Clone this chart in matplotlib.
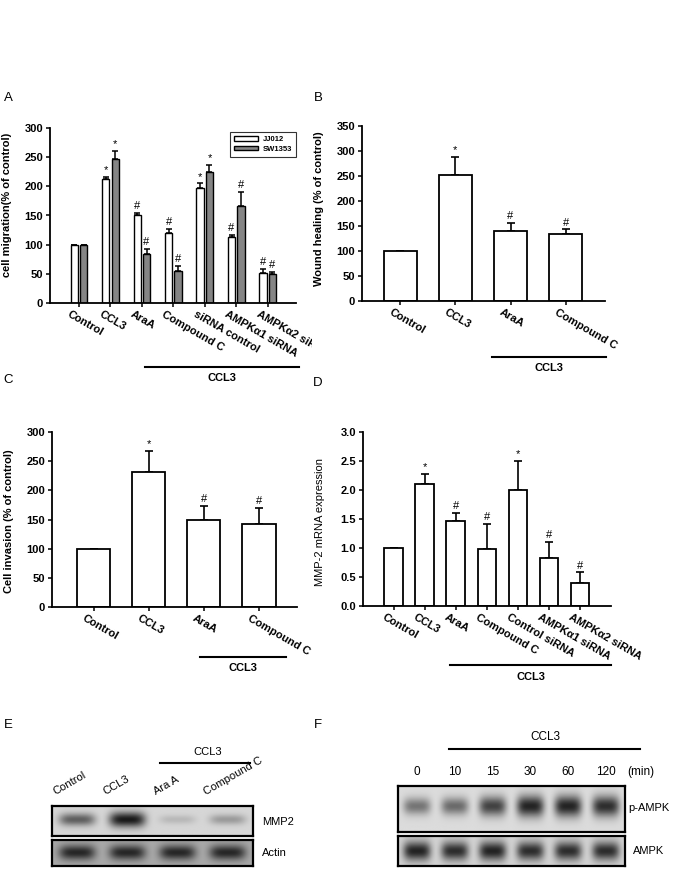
import numpy as np
import matplotlib
matplotlib.use('Agg')
import matplotlib.pyplot as plt
from matplotlib.transforms import blended_transform_factory, ScaledTranslation, Bbox, TransformedBbox
from matplotlib.patches import Patch
from matplotlib.lines import Line2D

plt.rcParams['font.family'] = ['Liberation Sans', 'DejaVu Sans']

# ---------------- data ----------------
a_labels = ['Control', 'CCL3', 'AraA', 'Compound C', 'siRNA control', 'AMPKα1 siRNA', 'AMPKα2 siRNA']
a_jj = [100, 212, 151, 120, 197, 113, 52]
a_jj_err = [0, 4, 4, 7, 8, 4, 6]
a_sw = [100, 247, 84, 55, 224, 167, 50]
a_sw_err = [0, 14, 9, 8, 13, 24, 3]
a_jj_mark = ['', '*', '#', '#', '*', '#', '#']
a_sw_mark = ['', '*', '#', '#', '*', '#', '#']
a_series = ['JJ012', 'SW1353']

b_labels = ['Control', 'CCL3', 'AraA', 'Compound C']
b_vals = [100, 253, 140, 134]
b_err = [0, 36, 17, 10]
b_mark = ['', '*', '#', '#']

c_labels = ['Control', 'CCL3', 'AraA', 'Compound C']
c_vals = [100, 231, 150, 143]
c_err = [0, 37, 24, 27]
c_mark = ['', '*', '#', '#']

d_labels = ['Control', 'CCL3', 'AraA', 'Compound C', 'Control siRNA', 'AMPKα1 siRNA', 'AMPKα2 siRNA']
d_vals = [1.0, 2.1, 1.46, 0.98, 2.0, 0.82, 0.39]
d_err = [0, 0.18, 0.15, 0.44, 0.5, 0.28, 0.19]
d_mark = ['', '*', '#', '#', '*', '#', '#']

e_lanes = ['Control', 'CCL3', 'Ara A', 'Compound C']
e_mmp2 = [0.60, 0.95, 0.15, 0.30]
e_actin = [0.85, 0.85, 0.85, 0.85]

f_lanes = ['0', '10', '15', '30', '60', '120']
f_pampk = [0.50, 0.55, 0.75, 0.90, 0.90, 0.85]
f_ampk = [0.90, 0.85, 0.90, 0.85, 0.85, 0.85]

# ---------------- figure ----------------
W, H = 685, 871
DPI = 100
fig = plt.figure(figsize=(W / DPI, H / DPI), dpi=DPI)


def rect(l, t, r, b):
    return [l / W, 1 - b / H, (r - l) / W, (b - t) / H]


def style(ax, ylim, yticks, fmt, ylabel, lab_y):
    for s in ['top', 'right']:
        ax.spines[s].set_visible(False)
    for s in ['left', 'bottom']:
        ax.spines[s].set_linewidth(1.3)
    ax.set_ylim(*ylim)
    ax.set_yticks(yticks)
    ax.set_yticklabels([fmt.format(v) for v in yticks], fontweight='bold')
    ax.tick_params(axis='y', direction='out', length=3, width=1.1, labelsize=8, pad=2)
    ax.tick_params(axis='x', direction='out', length=3, width=1.1, labelbottom=False)
    ax.set_ylabel(ylabel, fontsize=8, fontweight='bold')
    ax.yaxis.set_label_coords(-0.155, lab_y)


def xlabels(ax, labels, clip_px=None):
    trans = blended_transform_factory(ax.transData, ax.transAxes) + \
        ScaledTranslation(-8 / DPI, -6 / DPI, fig.dpi_scale_trans)
    for i, lab in enumerate(labels):
        t = ax.text(i, 0, lab, transform=trans, rotation=-30, rotation_mode='anchor',
                    ha='left', va='top', fontsize=8, fontweight='bold', clip_on=False)
        if clip_px is not None:
            bb = TransformedBbox(Bbox([[0, 0], [clip_px / W, 1]]), fig.transFigure)
            t.set_clip_box(bb)
            t.set_clip_on(True)


def ccl3_bracket(ax, x0, x1, yline, ytext):
    tr = blended_transform_factory(ax.transData, ax.transAxes)
    ax.add_line(Line2D([x0, x1], [yline, yline], transform=tr, color='black', lw=1.5, clip_on=False))
    ax.text((x0 + x1) / 2, ytext, 'CCL3', transform=tr, ha='center', va='center',
            fontsize=8, fontweight='bold', clip_on=False)


def marks(ax, xs, tops, ms, dy):
    for x, t, m in zip(xs, tops, ms):
        if m:
            ax.text(x, t + dy, m, ha='center', va='bottom', fontsize=8)


# ---------------- Panel A ----------------
axA = fig.add_axes(rect(50, 128, 296, 303))
xa = np.arange(len(a_labels))
bw = 0.23
off = 0.15
axA.bar(xa - off, a_jj, bw, color='white', edgecolor='black', lw=1.0, zorder=2)
axA.bar(xa + off, a_sw, bw, color='#858585', edgecolor='black', lw=1.0, zorder=2)
axA.errorbar(xa - off, a_jj, yerr=[np.zeros(len(a_jj)), a_jj_err], fmt='none', ecolor='black',
             elinewidth=1.1, capsize=2.2, capthick=1.1, zorder=1)
axA.errorbar(xa + off, a_sw, yerr=[np.zeros(len(a_sw)), a_sw_err], fmt='none', ecolor='black',
             elinewidth=1.1, capsize=2.2, capthick=1.1, zorder=1)
axA.set_xlim(-0.92, 6.9)
axA.set_xticks(xa)
style(axA, (0, 300), [0, 50, 100, 150, 200, 250, 300], '{:d}', 'cell migration(% of control)', 0.56)
marks(axA, xa - off, np.array(a_jj) + np.array(a_jj_err), a_jj_mark, 3)
marks(axA, xa + off, np.array(a_sw) + np.array(a_sw_err), a_sw_mark, 3)
xlabels(axA, a_labels, clip_px=312)
ccl3_bracket(axA, 2.1, 6.98, -0.366, -0.43)
leg = axA.legend(handles=[Patch(facecolor='white', edgecolor='black', label=a_series[0]),
                          Patch(facecolor='#858585', edgecolor='black', label=a_series[1])],
                 loc='upper right', bbox_to_anchor=(1.0, 0.975), frameon=True,
                 fancybox=False, edgecolor='black', handlelength=3.2, handleheight=0.6,
                 borderpad=0.5, labelspacing=0.3, handletextpad=0.6, borderaxespad=0.0,
                 prop={'weight': 'bold', 'size': 5.5})
leg.get_frame().set_linewidth(0.8)

# ---------------- Panel B ----------------
axB = fig.add_axes(rect(362, 126, 605, 301))
xb = np.arange(len(b_labels))
axB.bar(xb, b_vals, 0.6, color='white', edgecolor='black', lw=1.3, zorder=2)
axB.errorbar(xb, b_vals, yerr=[np.zeros(len(b_vals)), b_err], fmt='none', ecolor='black',
             elinewidth=1.2, capsize=3, capthick=1.2, zorder=1)
axB.set_xlim(-0.69, 3.71)
axB.set_xticks(xb)
style(axB, (0, 350), [0, 50, 100, 150, 200, 250, 300, 350], '{:d}', 'Wound healing (% of control)', 0.53)
marks(axB, xb, np.array(b_vals) + np.array(b_err), b_mark, 3)
xlabels(axB, b_labels)
ccl3_bracket(axB, 1.66, 3.72, -0.32, -0.383)

# ---------------- Panel C ----------------
axC = fig.add_axes(rect(52, 432, 297, 607))
xc = np.arange(len(c_labels))
axC.bar(xc, c_vals, 0.6, color='white', edgecolor='black', lw=1.3, zorder=2)
axC.errorbar(xc, c_vals, yerr=[np.zeros(len(c_vals)), c_err], fmt='none', ecolor='black',
             elinewidth=1.2, capsize=3, capthick=1.2, zorder=1)
axC.set_xlim(-0.76, 3.69)
axC.set_xticks(xc)
style(axC, (0, 300), [0, 50, 100, 150, 200, 250, 300], '{:d}', 'Cell invasion (% of control)', 0.49)
marks(axC, xc, np.array(c_vals) + np.array(c_err), c_mark, 3)
xlabels(axC, c_labels)
ccl3_bracket(axC, 1.93, 3.49, -0.286, -0.349)

# ---------------- Panel D ----------------
axD = fig.add_axes(rect(363, 432, 611, 606))
xd = np.arange(len(d_labels))
axD.bar(xd, d_vals, 0.6, color='white', edgecolor='black', lw=1.3, zorder=2)
axD.errorbar(xd, d_vals, yerr=[np.zeros(len(d_vals)), d_err], fmt='none', ecolor='black',
             elinewidth=1.2, capsize=3, capthick=1.2, zorder=1)
axD.set_xlim(-0.99, 7.0)
axD.set_xticks(xd)
style(axD, (0, 3.0), [0, 0.5, 1.0, 1.5, 2.0, 2.5, 3.0], '{:.1f}', 'MMP-2 mRNA expression', 0.48)
axD.yaxis.label.set_fontweight('normal')
marks(axD, xd, np.array(d_vals) + np.array(d_err), d_mark, 0.03)
xlabels(axD, d_labels)
ccl3_bracket(axD, 1.82, 7.0, -0.339, -0.408)

# ---------------- panel letters ----------------
for letter, (px, py) in {'A': (8, 98), 'B': (318, 98), 'C': (8, 380), 'D': (318, 383),
                         'E': (8, 725), 'F': (318, 725)}.items():
    fig.text(px / W, 1 - py / H, letter, fontsize=9.5, ha='center', va='center')


# ---------------- blots ----------------
def blot(rpx, intens, bg, yc, bh, dark=0.06, bwid=0.36):
    ax = fig.add_axes(rect(*rpx))
    n = len(intens)
    nx, ny = 500, 80
    x = np.linspace(-0.5, n - 0.5, nx)
    y = np.linspace(0, 1, ny)
    X, Y = np.meshgrid(x, y)
    prof = np.zeros_like(X)
    for i, v in enumerate(intens):
        h = bh * (0.6 + 0.6 * v)
        p = v * np.exp(-((X - i) / bwid) ** 4) * np.exp(-((Y - yc) / h) ** 2)
        prof = np.maximum(prof, p)
    img = bg - (bg - dark) * np.clip(prof, 0, 1)
    ax.imshow(img, cmap='gray', vmin=0, vmax=1, extent=(-0.5, n - 0.5, 1, 0),
              aspect='auto', interpolation='bilinear')
    ax.set_xticks([])
    ax.set_yticks([])
    for s in ax.spines.values():
        s.set_linewidth(1.6)
    return ax


axE1 = blot((52, 806, 253, 836), e_mmp2, 0.84, 0.45, 0.22)
axE2 = blot((52, 840, 253, 866), e_actin, 0.66, 0.5, 0.25)
fig.text(262 / W, 1 - 822 / H, 'MMP2', fontsize=8, ha='left', va='center')
fig.text(262 / W, 1 - 853 / H, 'Actin', fontsize=8, ha='left', va='center')
trE = blended_transform_factory(axE1.transData, fig.transFigure)
for i, lab in enumerate(e_lanes):
    axE1.text(i - 0.42, 1 - 797 / H, lab, transform=trE, rotation=30, rotation_mode='anchor',
              ha='left', va='bottom', fontsize=8, clip_on=False)
axE1.add_line(Line2D([1.65, 3.44], [1 - 763 / H] * 2, transform=trE, color='black', lw=1.5, clip_on=False))
axE1.text(2.6, 1 - 752 / H, 'CCL3', transform=trE, ha='center', va='center', fontsize=8, clip_on=False)

axF1 = blot((398, 786, 625, 832), f_pampk, 0.86, 0.45, 0.2)
axF2 = blot((398, 836, 625, 866), f_ampk, 0.82, 0.5, 0.28)
fig.text(628 / W, 1 - 808 / H, 'p-AMPK', fontsize=8, ha='left', va='center')
fig.text(633 / W, 1 - 851 / H, 'AMPK', fontsize=8, ha='left', va='center')
trF = blended_transform_factory(axF1.transData, fig.transFigure)
for i, lab in enumerate(f_lanes):
    axF1.text(i, 1 - 772 / H, lab, transform=trF, ha='center', va='center', fontsize=8.5, clip_on=False)
axF1.text(5.55, 1 - 772 / H, '(min)', transform=trF, ha='left', va='center', fontsize=8.5, clip_on=False)
axF1.add_line(Line2D([0.85, 5.9], [1 - 749 / H] * 2, transform=trF, color='black', lw=1.5, clip_on=False))
axF1.text(3.4, 1 - 737 / H, 'CCL3', transform=trF, ha='center', va='center', fontsize=8.5, clip_on=False)

fig.savefig('out.png', dpi=DPI)
